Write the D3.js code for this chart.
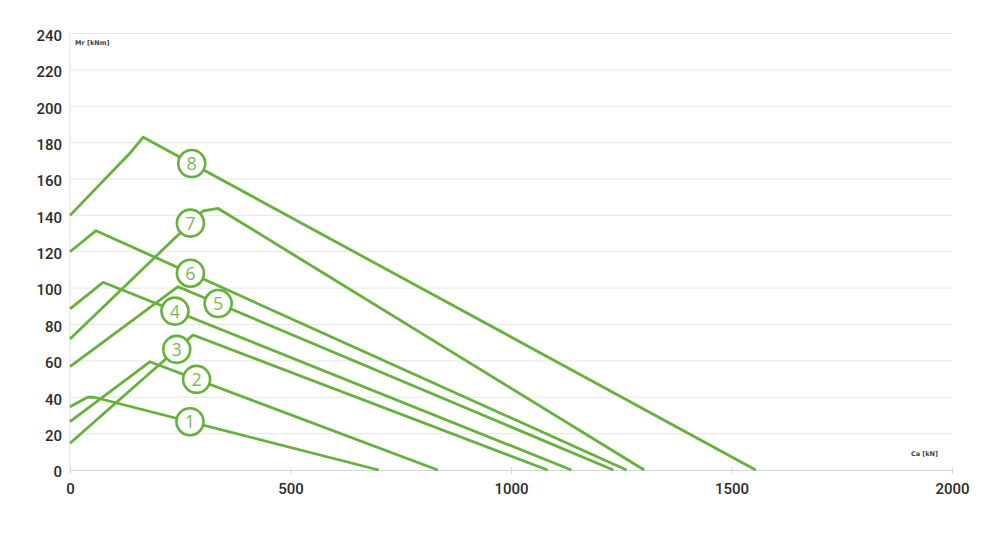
<!DOCTYPE html>
<html>
<head>
<meta charset="utf-8">
<script src="https://cdn.jsdelivr.net/npm/d3@7"></script>
<style>
  html, body { margin: 0; padding: 0; background: #fff; }
  svg { display: block; }
</style>
</head>
<body>
<svg id="chart" width="989" height="547"></svg>
<script>
// ---- data ----
const xTicks = [0, 500, 1000, 1500, 2000];
const yTicks = [0, 20, 40, 60, 80, 100, 120, 140, 160, 180, 200, 220, 240];
const xTitle = "Ca [kN]";
const yTitle = "Mr [kNm]";

const curveNames = ["1", "2", "3", "4", "5", "6", "7", "8"];
const curve1Ca = [0, 40, 55, 700];
const curve1Mr = [34.8, 40.0, 40.0, 0];
const curve2Ca = [0, 181, 834];
const curve2Mr = [26.6, 59.5, 0];
const curve3Ca = [0, 279, 1083];
const curve3Mr = [14.7, 74.2, 0];
const curve4Ca = [0, 75, 1137];
const curve4Mr = [88.6, 103.2, 0];
const curve5Ca = [0, 245, 1232];
const curve5Mr = [56.8, 100.8, 0];
const curve6Ca = [0, 59, 1262];
const curve6Mr = [120, 131.6, 0];
const curve7Ca = [0, 302, 336, 1302];
const curve7Mr = [72, 142.5, 143.8, 0];
const curve8Ca = [0, 139, 166, 1555];
const curve8Mr = [140, 175, 183, 0];
const labelCa = [272, 287, 242, 238, 336, 273, 273, 276];

const curveCa = [curve1Ca, curve2Ca, curve3Ca, curve4Ca, curve5Ca, curve6Ca, curve7Ca, curve8Ca];
const curveMr = [curve1Mr, curve2Mr, curve3Mr, curve4Mr, curve5Mr, curve6Mr, curve7Mr, curve8Mr];

// ---- drawing ----
const svg = d3.select("#chart");
const x = d3.scaleLinear().domain([0, 2000]).range([70, 952]);
const y = d3.scaleLinear().domain([0, 240]).range([470, 33.5]);

const green = "#66b03c";
const textGreen = "#79b957";

// gridlines
svg.append("g")
  .selectAll("line")
  .data(yTicks.filter(d => d > 0))
  .join("line")
  .attr("x1", x(0)).attr("x2", x(2000))
  .attr("y1", d => y(d)).attr("y2", d => y(d))
  .attr("stroke", "#e6e6e6").attr("stroke-width", 1);

// y axis line
svg.append("line")
  .attr("x1", x(0)).attr("x2", x(0))
  .attr("y1", y(240)).attr("y2", y(0))
  .attr("stroke", "#d7dde8").attr("stroke-width", 1);

// x axis
const xAxis = d3.axisBottom(x).tickValues(xTicks).tickSize(4).tickPadding(6).tickFormat(d3.format("d"));
const gx = svg.append("g").attr("transform", `translate(0,${y(0)})`).call(xAxis);
gx.select(".domain").attr("stroke", "#ccd6eb");
gx.selectAll(".tick line").attr("stroke", "#ccd6eb").attr("y1", -3);
gx.selectAll(".tick text")
  .attr("font-family", "Roboto, 'DejaVu Sans', sans-serif")
  .attr("font-size", 15).attr("font-weight", 500).attr("fill", "#2b2b2b").attr("dy", "0.9em");

// y axis labels
const yAxis = d3.axisLeft(y).tickValues(yTicks).tickSize(0).tickPadding(8).tickFormat(d3.format("d"));
const gy = svg.append("g").attr("transform", `translate(${x(0)},0)`).call(yAxis);
gy.select(".domain").remove();
gy.selectAll(".tick text")
  .attr("font-family", "Roboto, 'DejaVu Sans', sans-serif")
  .attr("font-size", 15).attr("font-weight", 500).attr("fill", "#2b2b2b").attr("dy", "0.45em");

// axis titles
svg.append("text")
  .attr("x", x(0) + 5).attr("y", y(240) + 11)
  .attr("font-family", "'DejaVu Sans', sans-serif").attr("font-size", 6.5)
  .attr("font-weight", "bold").attr("fill", "#444")
  .text(yTitle);
svg.append("text")
  .attr("x", x(2000) - 14).attr("y", y(0) - 14)
  .attr("text-anchor", "end")
  .attr("font-family", "'DejaVu Sans', sans-serif").attr("font-size", 6.5)
  .attr("font-weight", "bold").attr("fill", "#444")
  .text(xTitle);

// curves
const line = d3.line().x(d => x(d[0])).y(d => y(d[1]));
const curves = curveNames.map((name, i) => ({
  name,
  pts: curveCa[i].map((c, j) => [c, curveMr[i][j]]),
  labelCa: labelCa[i]
}));

svg.append("g")
  .selectAll("path")
  .data(curves)
  .join("path")
  .attr("d", d => line(d.pts))
  .attr("fill", "none")
  .attr("stroke", green)
  .attr("stroke-width", 2.8)
  .attr("stroke-linejoin", "round");

function interp(pts, c) {
  for (let k = 0; k < pts.length - 1; k++) {
    const a = pts[k], b = pts[k + 1];
    if (c >= a[0] && c <= b[0]) {
      return a[1] + (b[1] - a[1]) * (c - a[0]) / (b[0] - a[0]);
    }
  }
  return 0;
}

const labels = svg.append("g")
  .selectAll("g")
  .data(curves)
  .join("g")
  .attr("transform", d => `translate(${x(d.labelCa)},${y(interp(d.pts, d.labelCa))})`);
labels.append("circle")
  .attr("r", 13.5)
  .attr("fill", "#fff")
  .attr("stroke", green)
  .attr("stroke-width", 2.6);
labels.append("text")
  .attr("text-anchor", "middle")
  .attr("dy", "0.36em")
  .attr("font-family", "'Open Sans', 'DejaVu Sans', sans-serif")
  .attr("font-size", 18)
  .attr("fill", textGreen)
  .text(d => d.name);
</script>
</body>
</html>
